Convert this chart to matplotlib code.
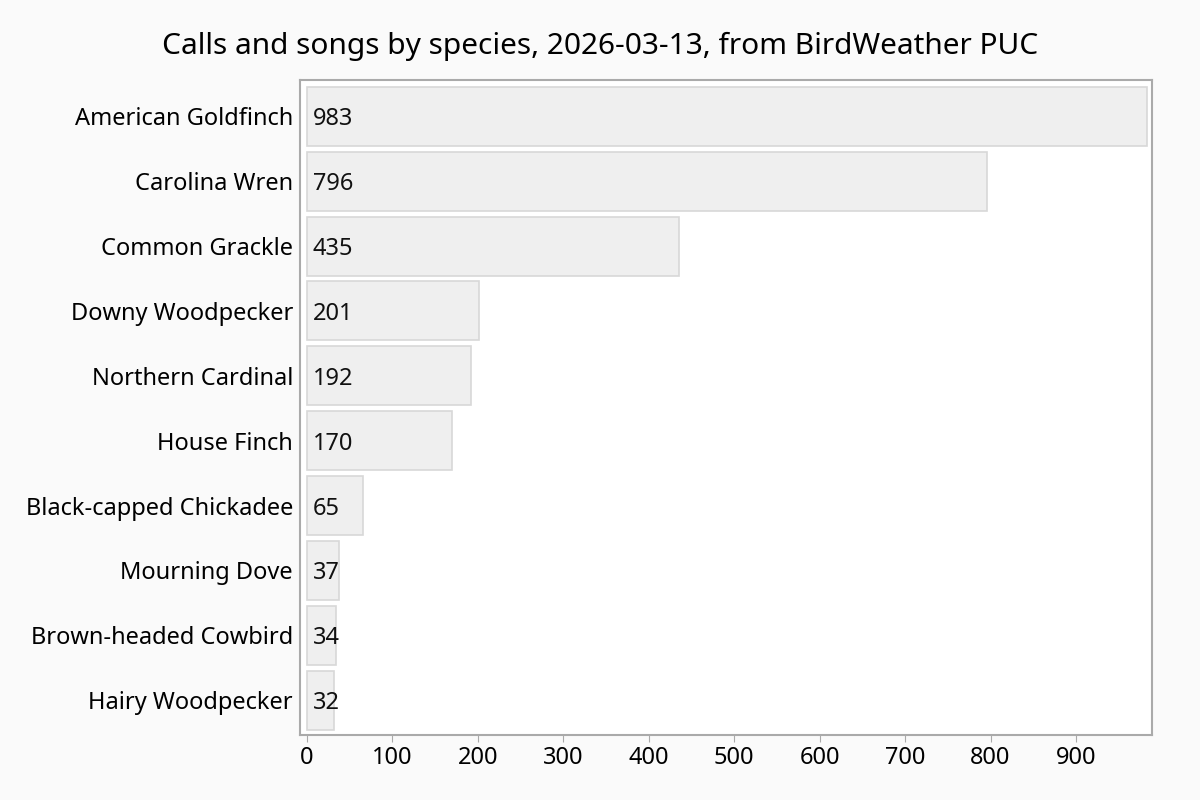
import matplotlib.pyplot as plt

species = ["American Goldfinch", "Carolina Wren", "Common Grackle", "Downy Woodpecker",
           "Northern Cardinal", "House Finch", "Black-capped Chickadee", "Mourning Dove",
           "Brown-headed Cowbird", "Hairy Woodpecker"]
counts = [983, 796, 435, 201, 192, 170, 65, 37, 34, 32]
xticks = [0, 100, 200, 300, 400, 500, 600, 700, 800, 900]

plt.rcParams['font.family'] = ['Noto Sans', 'DejaVu Sans']

fig = plt.figure(figsize=(12, 8), dpi=100, facecolor='#fafafa')
ax = fig.add_axes([0.25, 0.081, 0.71, 0.819])
ax.set_facecolor('white')

y = list(range(len(species)))
ax.barh(y, counts, height=0.91, color='#efefef', edgecolor='#d8d8d8', linewidth=1.2)
for i, c in enumerate(counts):
    ax.text(7, i, str(c), va='center_baseline', ha='left', fontsize=17, color='#111111')

ax.set_yticks(y)
ax.set_yticklabels(species, fontsize=17)
ax.set_xticks(xticks)
ax.set_xticklabels([str(t) for t in xticks], fontsize=17)
ax.set_xlim(-8.2, 989)
ax.set_ylim(9.54, -0.56)
ax.tick_params(axis='y', length=0, pad=5)
ax.tick_params(axis='x', length=5, color='#aaaaaa', pad=3)
for s in ax.spines.values():
    s.set_color('#aaaaaa')
    s.set_linewidth(1.5)

fig.suptitle("Calls and songs by species, 2026-03-13, from BirdWeather PUC",
             fontsize=21.5, y=0.96)

fig.savefig("out.png", dpi=100, facecolor=fig.get_facecolor())
